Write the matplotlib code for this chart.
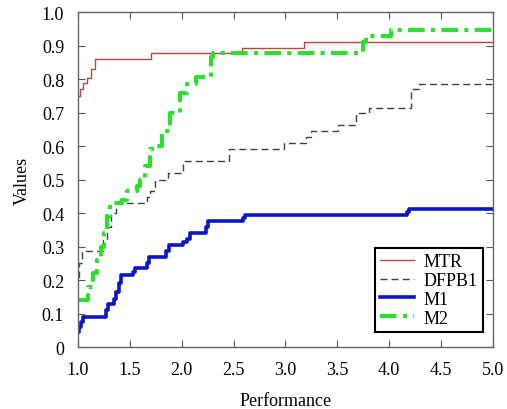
import matplotlib
matplotlib.use('Agg')
import matplotlib.pyplot as plt
import numpy as np

plt.rcParams['font.family'] = ['Liberation Serif', 'DejaVu Serif']

# performance profile data
mtr_x = [1.00, 1.02, 1.05, 1.09, 1.12, 1.16, 1.70, 2.58, 3.18, 5.00]
mtr_y = [0.75, 0.77, 0.787, 0.803, 0.83, 0.86, 0.878, 0.894, 0.912, 0.912]

dfpb1_x = [1.00, 1.01, 1.035, 1.24, 1.28, 1.32, 1.37, 1.66, 1.69, 1.74, 1.87,
           2.01, 2.46, 2.99, 3.20, 3.25, 3.51, 3.68, 3.81, 4.21, 4.29, 5.00]
dfpb1_y = [0.21, 0.25, 0.287, 0.32, 0.36, 0.40, 0.43, 0.447, 0.467, 0.50, 0.52,
           0.556, 0.59, 0.609, 0.628, 0.646, 0.663, 0.70, 0.715, 0.77, 0.785, 0.785]

m1_x = [1.00, 1.01, 1.03, 1.05, 1.27, 1.29, 1.35, 1.37, 1.39, 1.41, 1.53, 1.55,
        1.66, 1.68, 1.85, 1.88, 2.01, 2.05, 2.08, 2.23, 2.25, 2.59, 2.61, 4.17,
        4.19, 5.00]
m1_y = [0.044, 0.06, 0.074, 0.09, 0.11, 0.128, 0.145, 0.163, 0.19, 0.216, 0.225,
        0.235, 0.25, 0.27, 0.287, 0.304, 0.314, 0.324, 0.342, 0.36, 0.377, 0.386,
        0.395, 0.403, 0.412, 0.412]

m2_x = [1.00, 1.10, 1.14, 1.18, 1.22, 1.25, 1.28, 1.31, 1.42, 1.47, 1.57, 1.60,
        1.645, 1.69, 1.74, 1.81, 1.885, 1.98, 2.05, 2.14, 2.28, 2.30, 3.75, 3.78,
        4.02, 5.00]
m2_y = [0.14, 0.18, 0.22, 0.26, 0.30, 0.34, 0.39, 0.43, 0.44, 0.467, 0.48, 0.50,
        0.54, 0.59, 0.60, 0.646, 0.70, 0.76, 0.785, 0.805, 0.865, 0.878, 0.91, 0.93,
        0.947, 0.947]

xticks = np.arange(1.0, 5.01, 0.5)
yticks = np.arange(0, 1.01, 0.1)
ytick_labels = ['0'] + ['%.1f' % v for v in yticks[1:]]

fig = plt.figure(figsize=(5.07, 4.10), dpi=100)
ax = fig.add_axes([0.154, 0.151, 0.818, 0.817])

ax.plot(mtr_x, mtr_y, drawstyle='steps-post', color='#c04444', lw=1.0, label='MTR')
ax.plot(dfpb1_x, dfpb1_y, drawstyle='steps-post', color='#404040', lw=1.0,
        ls=(0, (5, 3)), label='DFPB1')
ax.plot(m1_x, m1_y, drawstyle='steps-post', color='#0a14c8', lw=2.6, label='M1')
ax.plot(m2_x, m2_y, drawstyle='steps-post', color='#2ee02e', lw=3.0,
        ls=(0, (4, 1.5, 1, 1.5)), label='M2')

ax.set_xlim(1.0, 5.0)
ax.set_ylim(0, 1.0)
ax.set_xticks(xticks)
ax.set_xticklabels(['%.1f' % v for v in xticks])
ax.set_yticks(yticks)
ax.set_yticklabels(ytick_labels)
ax.tick_params(direction='in', top=True, right=True, length=5, width=0.8,
               labelsize=13, color='#555555')
ax.tick_params(axis='x', pad=10)
ax.tick_params(axis='y', pad=10)
for s in ax.spines.values():
    s.set_color('#666666')
    s.set_linewidth(1.0)

ax.set_xlabel('Performance', fontsize=13, labelpad=10)
ax.set_ylabel('Values', fontsize=13, labelpad=8)

leg = ax.legend(loc='lower right', bbox_to_anchor=(0.976, 0.045), fontsize=13,
                fancybox=False, framealpha=1, edgecolor='black', handlelength=1.9,
                labelspacing=0.1, borderpad=0.3, handletextpad=0.5,
                borderaxespad=0)
leg.get_frame().set_linewidth(1.5)

fig.savefig('out.png', dpi=100)
